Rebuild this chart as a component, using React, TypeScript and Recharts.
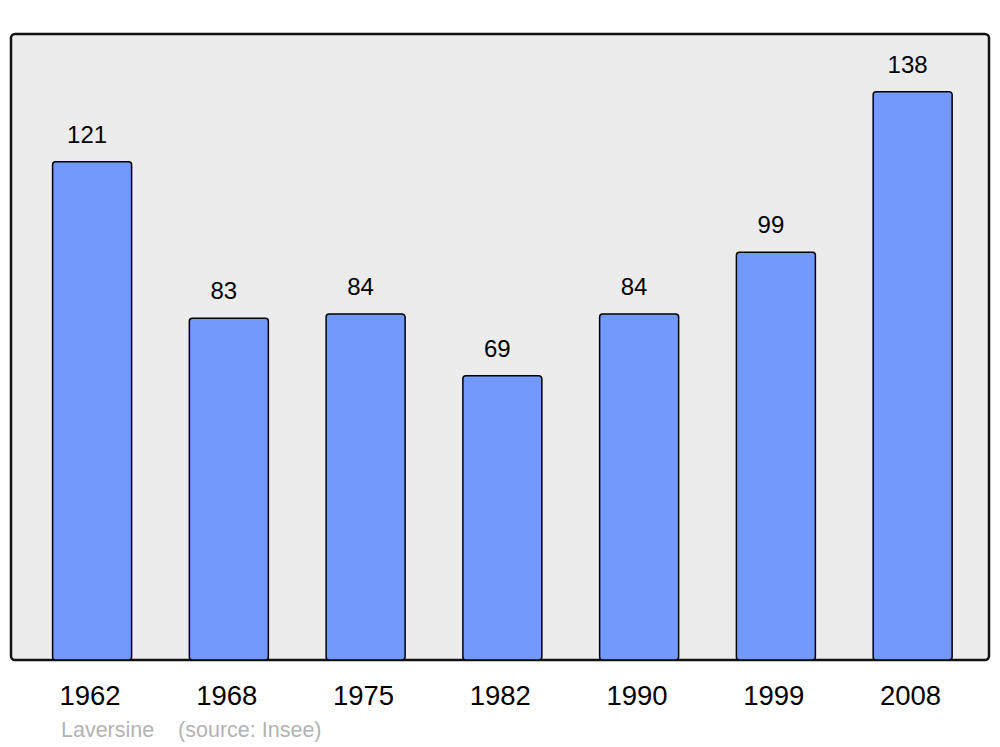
import React from 'react';
import { BarChart, Bar, XAxis, YAxis, ReferenceArea, LabelList, Rectangle } from 'recharts';

const years = ['1962', '1968', '1975', '1982', '1990', '1999', '2008'];
const population = [121, 83, 84, 69, 84, 99, 138];

const data = years.map((year, i) => ({ year, population: population[i] }));

const FONT = '"Liberation Sans", Arial, sans-serif';

const App: React.FC = () => {
    return (
        <div style={{ position: 'absolute', left: 0, top: 0, width: 1000, height: 747, background: '#fff', fontFamily: FONT }}>
            <BarChart
                width={1000}
                height={747}
                data={data}
                margin={{ top: 34, right: 11, left: 11, bottom: 0 }}
            >
                <YAxis hide domain={[0, 152]} allowDataOverflow />
                <XAxis
                    dataKey="year"
                    axisLine={false}
                    tickLine={false}
                    height={87}
                    padding={{ left: 12.6, right: 8.1 }}
                    tickMargin={19}
                    tick={{ fontSize: 27.5, fill: '#000', fontFamily: FONT, dx: -2 }}
                    interval={0}
                />
                {/* unpadded axis so the frame spans the whole plot area */}
                <XAxis xAxisId="frame" dataKey="year" hide />
                <ReferenceArea
                    xAxisId="frame"
                    x1={years[0]}
                    x2={years[years.length - 1]}
                    y1={0}
                    y2={152}
                    fill="#ececec"
                    fillOpacity={1}
                    stroke="#111"
                    strokeWidth={2.5}
                    shape={(props: any) => <Rectangle {...props} radius={4} />}
                />
                <Bar
                    dataKey="population"
                    fill="#7399ff"
                    stroke="#000"
                    strokeWidth={1.5}
                    barSize={79}
                    radius={3}
                    isAnimationActive={false}
                >
                    <LabelList
                        dataKey="population"
                        position="top"
                        offset={19}
                        dx={-5}
                        style={{ fontSize: 24, fill: '#000', fontFamily: FONT }}
                    />
                </Bar>
            </BarChart>
            <div style={{ position: 'absolute', left: 61, top: 718, fontSize: 21.5, color: '#b3b3b3', fontFamily: FONT, whiteSpace: 'pre' }}>
                {'Laversine    (source: Insee)'}
            </div>
        </div>
    );
};

export default App;
